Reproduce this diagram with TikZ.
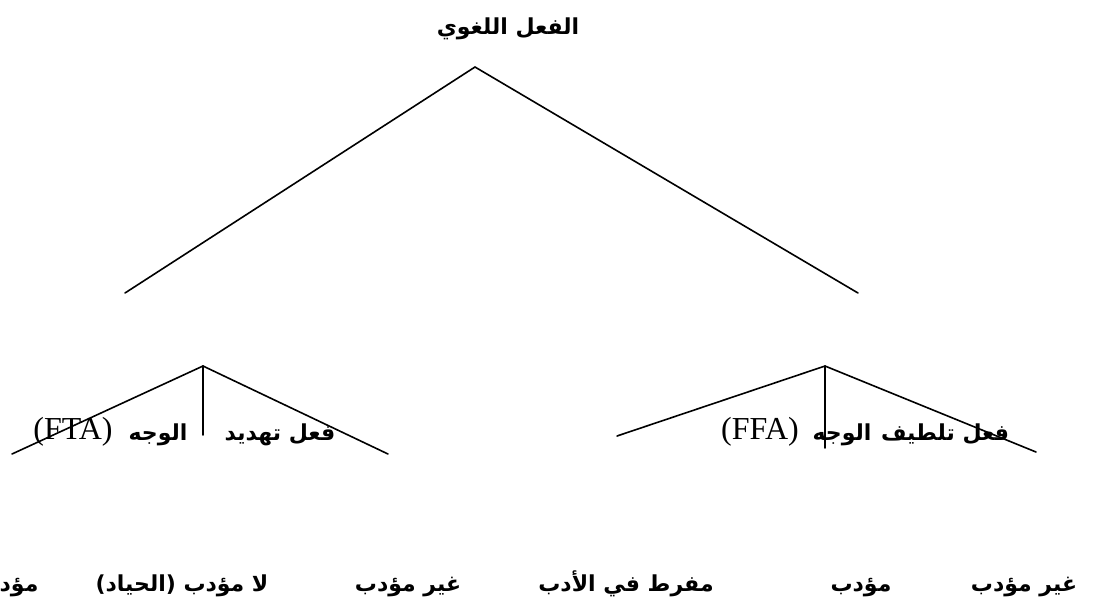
\documentclass[tikz,border=0pt]{standalone}
\usepackage{fontspec}
\TeXXeTstate=1
\newfontfamily\arabicfont[Script=Arabic]{DejaVu Sans}
\newfontfamily\latinserif{Liberation Serif}
\tikzset{
  ar/.style={font=\arabicfont\bfseries\fontsize{16.5pt}{20pt}\selectfont, inner sep=0pt, anchor=base},
  lat/.style={font=\latinserif\fontsize{24pt}{28pt}\selectfont, inner sep=0pt, anchor=base},
  branch/.style={draw=black, line width=1.2pt, line cap=round}
}
\begin{document}
\begin{tikzpicture}[x=0.75pt,y=-0.75pt]
\useasboundingbox (0,0) rectangle (1093,612);
\clip (0,0) rectangle (1093,612);
% title
\node[ar] (root) at (508,34) {\beginR الفعل اللغوي\endR};
% tree points
\coordinate (R) at (475,67);
\coordinate (Bl) at (125,293);
\coordinate (Br) at (858,293);
\coordinate (L) at (203,366);
\coordinate (Ll) at (12,454);
\coordinate (Lr) at (388,454);
\coordinate (Lv) at (203,435);
\coordinate (Q) at (825,366);
\coordinate (Ql) at (617,436);
\coordinate (Qr) at (1036,452);
\coordinate (Qv) at (825,448);
% middle labels
\node[lat] (fta) at (73,439) {(FTA)};
\node[ar] (ftaw) at (158,440) {\beginR الوجه\endR};
\node[ar] (ftah) at (280,440) {\beginR فعل تهديد\endR};
\node[lat] (ffa) at (760,439) {(FFA)};
\node[ar] (ffaw) at (842,440) {\beginR الوجه\endR};
\node[ar] (ffat) at (945,440) {\beginR فعل تلطيف\endR};
% bottom labels
\node[ar] (b1) at (8,591) {\beginR مؤدب\endR};
\node[ar] (b2) at (182,591) {\beginR لا مؤدب (الحياد)\endR};
\node[ar] (b3) at (408,591) {\beginR غير مؤدب\endR};
\node[ar] (b4) at (626,591) {\beginR مفرط في الأدب\endR};
\node[ar] (b5) at (861,591) {\beginR مؤدب\endR};
\node[ar] (b6) at (1024,591) {\beginR غير مؤدب\endR};
% connectors
\draw[branch] (Bl) -- (R) -- (Br);
\draw[branch] (Ll) -- (L) -- (Lr);
\draw[branch] (L) -- (Lv);
\draw[branch] (Ql) -- (Q) -- (Qr);
\draw[branch] (Q) -- (Qv);
\end{tikzpicture}
\end{document}
